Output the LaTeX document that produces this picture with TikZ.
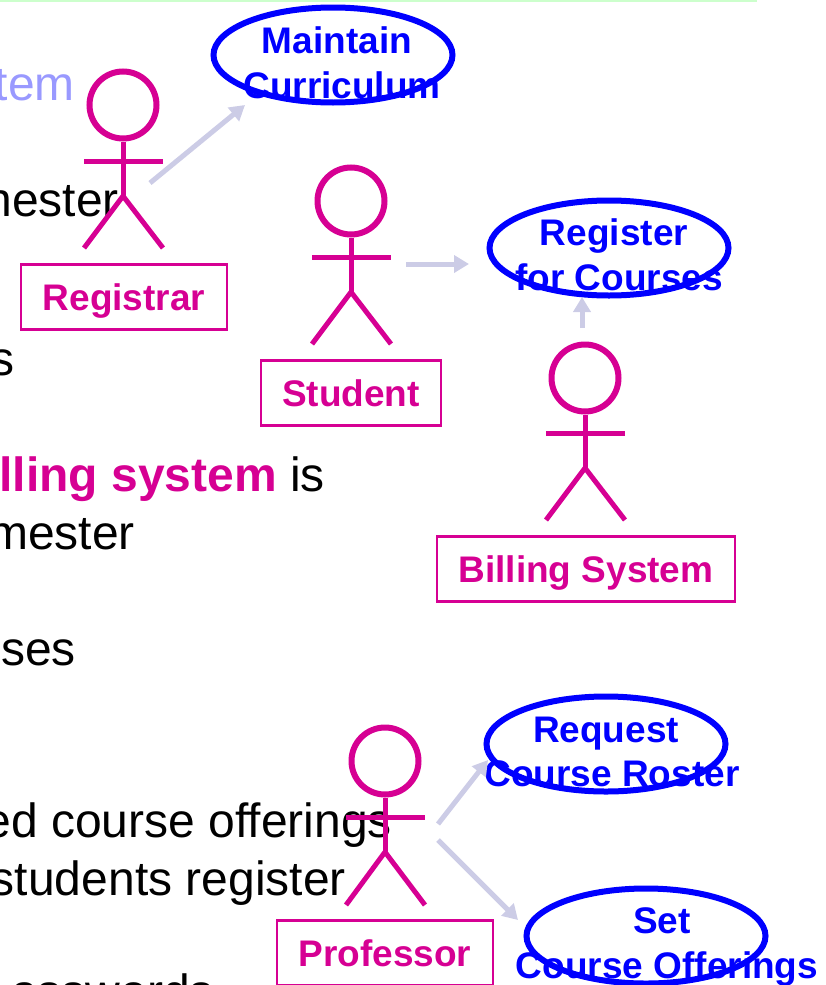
\documentclass[tikz,border=0pt]{standalone}
\usepackage{fontspec}
\setmainfont{Liberation Sans}
\usetikzlibrary{arrows.meta, shapes.geometric}
\definecolor{actorpink}{HTML}{D60093}
\definecolor{assocgrey}{HTML}{CCCCE6}
\definecolor{fadeblue}{HTML}{9999FF}
\definecolor{barcolor}{HTML}{CCFFCC}
\tikzset{body/.style={anchor=base east,inner sep=0pt,font=\fontsize{48}{52}\selectfont},
         limb/.style={draw=actorpink,line width=5pt},
         head/.style={circle,draw=actorpink,line width=6pt,inner sep=0pt,minimum size=67pt},
         actorbox/.style={draw=actorpink,line width=2.5pt,text=actorpink,inner sep=0pt,
                          minimum height=65pt,text height=26pt,text depth=0pt,
                          font=\fontsize{37}{40}\selectfont\bfseries},
         usecase/.style={ellipse,draw=blue,line width=6pt,inner sep=0pt,minimum width=239pt,minimum height=95pt},
         casetext/.style={anchor=base,inner sep=0pt,text=blue,font=\fontsize{37}{40}\selectfont\bfseries},
         assoc/.style={draw=assocgrey,line width=5pt,-{Triangle[length=15pt,width=17pt]}}}

\begin{document}
\begin{tikzpicture}[x=1pt,y=-1pt]
        \useasboundingbox (0,0) rectangle (825,985);
        \fill[barcolor] (0,0) rectangle (757,2);

        \node[body, text=fadeblue](t1)at(75,100){tem};
        \node[body](t2)at(119,216){nester};
        \node[body](t3)at(15,375){s};
        \node[body](t4)at(325,491){\textcolor{actorpink}{\textbf{lling system}} is};
        \node[body](t5)at(135,549){mester};
        \node[body](t6)at(76,665){ses};
        \node[body](t7)at(392,837){ed course offerings};
        \node[body](t8)at(346,895){students register};
        \node[body](t9)at(214,1008){asswords};

        % Registrar
        \node[head](reghead)at(123,105){};
        \coordinate(reghip)at(123,196);
        \coordinate(regarml)at(84,161);
        \coordinate(regarmr)at(163,161);
        \coordinate(reglegl)at(84,248);
        \coordinate(reglegr)at(163,248);
        \draw[limb](reghead.south)--(reghip);
        \draw[limb](regarml)--(regarmr);
        \draw[limb](reglegl)--(reghip)--(reglegr);
        \node[actorbox, minimum width=206pt](registrar)at(124,297){Registrar};

        % Student
        \node[head](stuhead)at(351,201){};
        \coordinate(stuhip)at(351,292);
        \coordinate(stuarml)at(312,257);
        \coordinate(stuarmr)at(391,257);
        \coordinate(stulegl)at(312,344);
        \coordinate(stulegr)at(391,344);
        \draw[limb](stuhead.south)--(stuhip);
        \draw[limb](stuarml)--(stuarmr);
        \draw[limb](stulegl)--(stuhip)--(stulegr);
        \node[actorbox, minimum width=180pt](student)at(351,393){Student};

        % Billing System
        \node[head](bilhead)at(585,378){};
        \coordinate(bilhip)at(585,468);
        \coordinate(bilarml)at(546,433);
        \coordinate(bilarmr)at(625,433);
        \coordinate(billegl)at(546,520);
        \coordinate(billegr)at(625,520);
        \draw[limb](bilhead.south)--(bilhip);
        \draw[limb](bilarml)--(bilarmr);
        \draw[limb](billegl)--(bilhip)--(billegr);
        \node[actorbox, minimum width=298pt](billing)at(586,569){Billing System};

        % Professor
        \node[head](prohead)at(385,761){};
        \coordinate(prohip)at(385,852);
        \coordinate(proarml)at(346,817);
        \coordinate(proarmr)at(425,817);
        \coordinate(prolegl)at(346,905);
        \coordinate(prolegr)at(425,905);
        \draw[limb](prohead.south)--(prohip);
        \draw[limb](proarml)--(proarmr);
        \draw[limb](prolegl)--(prohip)--(prolegr);
        \node[actorbox, minimum width=216pt](professor)at(385,953){Professor};

        % use cases
        \node[usecase](maintain)at(333,55){};
        \node[casetext](maintain1)at(337,53){Maintain};
        \node[casetext](maintain2)at(342,98){Curriculum};

        \node[usecase](register)at(609,248){};
        \node[casetext](register1)at(614,245){Register};
        \node[casetext](register2)at(619,290){for Courses};

        \node[usecase](roster)at(606,744){};
        \node[casetext](roster1)at(606,742){Request};
        \node[casetext](roster2)at(612,786){Course Roster};

        \node[usecase](offerings)at(646,936){};
        \node[casetext](offerings1)at(662,933){Set};
        \node[casetext](offerings2)at(667,978){Course Offerings};

        % associations
        \coordinate(regout)at(150,183);
        \coordinate(regin)at(245,105);
        \coordinate(stuout)at(406,264);
        \coordinate(stuin)at(469,264);
        \coordinate(bilout)at(582,328);
        \coordinate(bilin)at(582,297);
        \coordinate(proouta)at(438,824);
        \coordinate(proina)at(488,760);
        \coordinate(prooutb)at(438,840);
        \coordinate(proinb)at(518,920);
        \draw[assoc](regout)--(regin);
        \draw[assoc](stuout)--(stuin);
        \draw[assoc](bilout)--(bilin);
        \draw[assoc](proouta)--(proina);
        \draw[assoc](prooutb)--(proinb);
    \end{tikzpicture}
\end{document}
